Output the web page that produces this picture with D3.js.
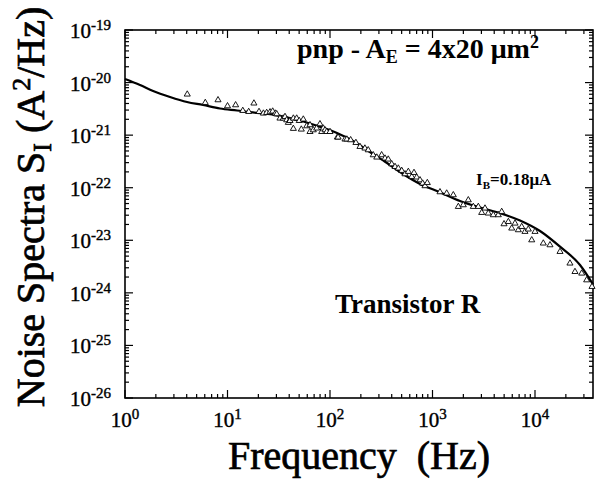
<!DOCTYPE html>
<html>
<head>
<meta charset="utf-8">
<script src="https://cdn.jsdelivr.net/npm/d3@7"></script>
<style>
  body { margin: 0; background: #fff; }
  text { font-family: "Liberation Serif", "Times New Roman", serif; fill: #000; }
</style>
</head>
<body>
<svg id="chart" width="597" height="485"></svg>
<script>
// decades shown on the axes
var xDecades = [0, 1, 2, 3, 4];
var yDecades = [-26, -25, -24, -23, -22, -21, -20, -19];

// measured noise spectrum (triangles)
var freq = [4.05, 6.07, 8.08, 10.0, 12.0, 14.1, 16.1, 18.1, 20.3, 22.4, 24.1, 26.0, 27.6, 29.3,
  30.2, 32.5, 35.0, 36.4, 37.8, 39.2, 40.7, 43.9, 43.9, 47.3, 50.1, 52.5, 54.9, 59.3, 63.8, 63.8,
  68.7, 74.1, 79.8, 83.0, 86.0, 89.4, 92.9, 100, 118, 120, 140, 146, 159, 179, 196, 219, 236, 264,
  286, 319, 344, 370, 400, 431, 464, 501, 539, 581, 627, 660, 701, 755, 802, 845, 890,
  1183, 1375, 1596, 1786, 1997, 2235, 2500, 2798, 3020, 3252, 3501, 3918, 4385, 4733, 4986,
  5495, 5929, 6383, 6874, 7413, 7983, 8603, 9290, 10000, 12050, 14000, 17540, 21930, 24550,
  28560, 31920, 36000];
var noise = [5.98e-21, 4.14e-21, 4.66e-21, 3.58e-21, 3.74e-21, 2.92e-21, 2.79e-21, 4.04e-21,
  2.79e-21, 2.60e-21, 2.67e-21, 2.75e-21, 2.84e-21, 2.60e-21,
  2.52e-21, 2.09e-21, 2.09e-21, 2.24e-21, 1.94e-21, 1.73e-21, 1.88e-21, 1.33e-21, 2.09e-21,
  2.09e-21, 1.88e-21, 1.29e-21, 2.00e-21, 1.49e-21, 1.56e-21, 1.16e-21,
  1.25e-21, 1.35e-21, 1.63e-21, 1.16e-21, 1.35e-21, 1.25e-21, 1.16e-21, 1.16e-21, 9.10e-22,
  9.10e-22, 8.34e-22, 8.34e-22, 8.09e-22, 7.18e-22, 6.03e-22, 5.62e-22, 5.21e-22, 4.19e-22,
  3.79e-22, 4.19e-22, 3.62e-22, 3.47e-22, 2.82e-22, 2.51e-22, 2.34e-22, 2.11e-22, 1.82e-22,
  2.02e-22, 1.62e-22, 1.93e-22, 1.58e-22, 1.40e-22, 1.21e-22, 1.08e-22, 1.24e-22,
  8.28e-23, 7.83e-23, 7.27e-23, 4.36e-23, 4.69e-23, 5.83e-23, 4.36e-23, 4.36e-23, 3.35e-23,
  4.06e-23, 3.26e-23, 3.03e-23, 3.03e-23, 3.50e-23, 2.04e-23,
  2.25e-23, 1.69e-23, 2.10e-23, 1.57e-23, 1.81e-23, 1.46e-23, 1.62e-23, 1.01e-23, 1.46e-23,
  8.77e-24, 8.13e-24, 6.07e-24, 3.65e-24, 2.52e-24,
  2.35e-24, 1.75e-24, 1.31e-24];

// model fit (solid line)
var fitFreq = [1, 1.40, 1.88, 2.75, 4.03, 5.77, 8.45, 12.4, 17.7, 26.0, 36.4, 51, 76, 117, 168,
  245, 360, 515, 755, 1183, 1855, 2905, 4560, 7140, 11190, 17540, 27490, 36800];
var fitNoise = [1.17e-20, 8.99e-21, 6.92e-21, 5.32e-21, 4.27e-21, 3.74e-21, 3.21e-21, 2.94e-21,
  2.70e-21, 2.52e-21, 2.21e-21, 1.90e-21, 1.49e-21, 1.10e-21, 7.74e-22,
  4.78e-22, 2.95e-22, 1.82e-22, 1.18e-22, 8.20e-23, 5.59e-23, 4.20e-23, 3.28e-23, 2.38e-23,
  1.50e-23, 7.55e-24, 3.39e-24, 1.45e-24];

var svg = d3.select("#chart");
var plotL = 125, plotR = 593, plotT = 30, plotB = 398;

var x = d3.scaleLog().domain([1, 36800]).range([plotL, plotR]);
var y = d3.scaleLog().domain([1e-26, 1e-19]).range([plotB, plotT]);

// minor + major tick positions for a log scale
function logTicks(lo, hi) {
  var out = [];
  for (var e = lo; e < hi; e++) {
    for (var m = 1; m < 10; m++) out.push({ v: m * Math.pow(10, e), major: m === 1 });
  }
  out.push({ v: Math.pow(10, hi), major: true });
  return out;
}

var xt = logTicks(0, 5).filter(function (d) { return d.v <= 36800; });
var yt = logTicks(-26, -19);

var g = svg.append("g").attr("stroke", "#000").attr("stroke-width", 1.2);

// frame
svg.append("rect")
  .attr("x", plotL).attr("y", plotT)
  .attr("width", plotR - plotL).attr("height", plotB - plotT)
  .attr("fill", "none").attr("stroke", "#000").attr("stroke-width", 1.6);

// ticks, all pointing inward
xt.forEach(function (d) {
  var len = d.major ? 8 : 4;
  g.append("line").attr("x1", x(d.v)).attr("x2", x(d.v)).attr("y1", plotB).attr("y2", plotB - len);
  g.append("line").attr("x1", x(d.v)).attr("x2", x(d.v)).attr("y1", plotT).attr("y2", plotT + len);
});
yt.forEach(function (d) {
  var len = d.major ? 8 : 4;
  g.append("line").attr("y1", y(d.v)).attr("y2", y(d.v)).attr("x1", plotL).attr("x2", plotL + len);
  g.append("line").attr("y1", y(d.v)).attr("y2", y(d.v)).attr("x1", plotR).attr("x2", plotR - len);
});

// tick labels
xDecades.forEach(function (e) {
  var t = svg.append("text")
    .attr("x", x(Math.pow(10, e))).attr("y", plotB + 29)
    .attr("text-anchor", "middle").style("font-size", "21px")
    .attr("stroke", "#000").attr("stroke-width", 0.4);
  t.append("tspan").text("10");
  t.append("tspan").attr("dy", -8).style("font-size", "15px").text(e);
});
yDecades.forEach(function (e) {
  var t = svg.append("text")
    .attr("x", 111).attr("y", y(Math.pow(10, e)) + 8)
    .attr("text-anchor", "end").style("font-size", "21px")
    .attr("stroke", "#000").attr("stroke-width", 0.4);
  t.append("tspan").text("10");
  t.append("tspan").attr("dy", -8).style("font-size", "15px").text(e);
});

// fit line
var line = d3.line()
  .x(function (d) { return x(d[0]); })
  .y(function (d) { return y(d[1]); })
  .curve(d3.curveMonotoneX);
svg.append("path")
  .datum(d3.zip(fitFreq, fitNoise))
  .attr("d", line)
  .attr("fill", "none").attr("stroke", "#000").attr("stroke-width", 2.2);

// data triangles
var tri = d3.symbol().type(d3.symbolTriangle).size(16);
svg.selectAll(".pt")
  .data(d3.zip(freq, noise))
  .enter().append("path")
  .attr("class", "pt")
  .attr("d", tri)
  .attr("transform", function (d) { return "translate(" + x(d[0]) + "," + y(d[1]) + ")"; })
  .attr("fill", "#fff").attr("stroke", "#000").attr("stroke-width", 0.9);

// axis titles
svg.append("text")
  .attr("x", 359).attr("y", 469)
  .attr("text-anchor", "middle").style("font-size", "40px")
  .attr("stroke", "#000").attr("stroke-width", 0.7)
  .text("Frequency\u00a0\u00a0(Hz)");

var yl = svg.append("text")
  .attr("transform", "translate(44,207) rotate(-90)")
  .attr("text-anchor", "middle").style("font-size", "40px")
  .attr("stroke", "#000").attr("stroke-width", 0.7);
yl.append("tspan").text("Noise Spectra S");
yl.append("tspan").attr("dy", 7).style("font-size", "26px").text("I");
yl.append("tspan").attr("dy", -7).text(" (A");
yl.append("tspan").attr("dy", -14).style("font-size", "26px").text("2");
yl.append("tspan").attr("dy", 14).text("/Hz)");

// annotations
var a1 = svg.append("text").attr("x", 297).attr("y", 58)
  .style("font-size", "28px").style("font-weight", "bold");
a1.append("tspan").text("pnp - A");
a1.append("tspan").attr("dy", 5).style("font-size", "18px").text("E");
a1.append("tspan").attr("dy", -5).text(" = 4x20 \u03bcm");
a1.append("tspan").attr("dy", -10).style("font-size", "18px").text("2");

var a2 = svg.append("text").attr("x", 476).attr("y", 185)
  .style("font-size", "17px").style("font-weight", "bold");
a2.append("tspan").text("I");
a2.append("tspan").attr("dy", 4).style("font-size", "11px").text("B");
a2.append("tspan").attr("dy", -4).text("=0.18\u03bcA");

svg.append("text").attr("x", 335).attr("y", 313)
  .style("font-size", "27px").style("font-weight", "bold")
  .text("Transistor R");
</script>
</body>
</html>
